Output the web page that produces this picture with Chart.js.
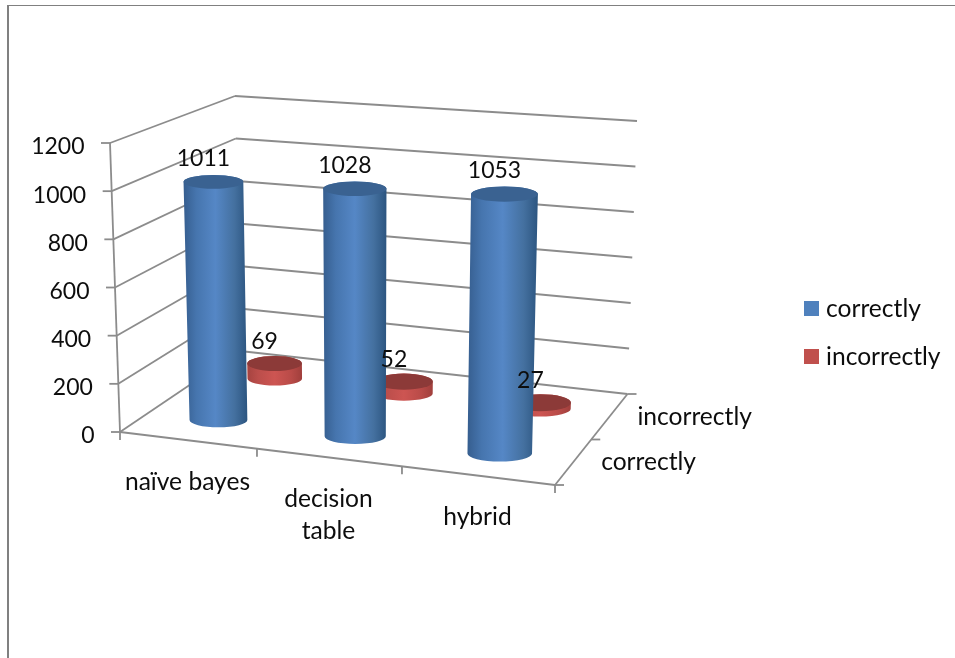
<!DOCTYPE html>
<html>
<head>
<meta charset="utf-8">
<title>correctly / incorrectly</title>
<script src="https://cdn.jsdelivr.net/npm/chart.js@4"></script>
<style>
  html, body { margin: 0; padding: 0; background: #fff; }
  #wrap { width: 955px; height: 658px; }
</style>
</head>
<body>
<div id="wrap"><canvas id="chart3d" width="955" height="658"></canvas></div>
<script>
const categories = ['naïve bayes', ['decision', 'table'], 'hybrid'];
const correctly = [1011, 1028, 1053];
const incorrectly = [69, 52, 27];
const seriesNames = ['correctly', 'incorrectly'];

// corners of the 3d box on the canvas: front/back, left/right, bottom/top
const box = {
    flb: [120, 432], frb: [555, 485], blb: [240, 351], brb: [627.5, 394],
    flt: [110, 143], frt: [563, 176], blt: [235, 96], brt: [637, 121]
};

const NUM_FONT = '23px Lato, "Open Sans", sans-serif';
const FONT = '24.6px Lato, "Open Sans", sans-serif';
const LINE = '#8c8c8c';
const TEXT = '#0d0d0d';

const shades = [
    { legend: '#4f81bd', edgeL: '#365e8f', midL: '#4675ae', lit: '#5587c6', midR: '#44709f', edgeR: '#2c5580', cap: '#3a6291' },
    { legend: '#c0504d', edgeL: '#a54340', midL: '#bb4e4b', lit: '#cd5552', midR: '#b94b48', edgeR: '#a03f3c', cap: '#8c3a38' }
];

function lerp(a, b, t) {
    return [a[0] + (b[0] - a[0]) * t, a[1] + (b[1] - a[1]) * t];
}

// the right side is nearer the viewer so the categories spread out a bit
function warp(u) {
    return u * (1 - 0.083 * (1 - u));
}

function project(u, d, v) {
    const w = warp(u);
    const bottom = lerp(lerp(box.flb, box.frb, w), lerp(box.blb, box.brb, w), d);
    const top = lerp(lerp(box.flt, box.frt, w), lerp(box.blt, box.brt, w), d);
    return lerp(bottom, top, v);
}

function line(ctx, a, b) {
    ctx.beginPath();
    ctx.moveTo(a[0], a[1]);
    ctx.lineTo(b[0], b[1]);
    ctx.stroke();
}

function drawFrame(ctx) {
    ctx.fillStyle = '#808080';
    ctx.fillRect(7, 5, 948, 1);
    ctx.fillRect(7, 5, 2, 653);
}

function drawWalls(chart) {
    const ctx = chart.ctx;
    const y = chart.scales.y;
    ctx.strokeStyle = LINE;
    ctx.lineWidth = 1.8;

    y.ticks.forEach(tick => {
        const v = (y.bottom - y.getPixelForValue(tick.value)) / y.height;
        const front = project(0, 0, v);
        const back = project(0, 1, v);
        line(ctx, [front[0] - 9, front[1]], front);
        line(ctx, front, back);
        line(ctx, back, project(1, 1, v));
    });

    // value axis, floor edges and their tick marks
    line(ctx, project(0, 0, 0), project(0, 0, 1));
    line(ctx, project(0, 0, 0), project(1, 0, 0));
    line(ctx, project(1, 0, 0), project(1, 1, 0));

    const n = categories.length;
    for (let i = 0; i <= n; i++) {
        const p = project(i / n, 0, 0);
        line(ctx, p, [p[0], p[1] + 8]);
    }
    [0, 0.5, 1].forEach(d => {
        const p = project(1, d, 0);
        line(ctx, p, [p[0] + 9, p[1]]);
    });
}

function cylinder(ctx, bar, depth, look, vScale, xScale) {
    const u = (bar.x - xScale.left) / xScale.width;
    const v = (vScale.bottom - bar.y) / vScale.height;
    const half = bar.width / xScale.width / 2;

    const b = project(u, depth, 0);
    const t = project(u, depth, v);
    b[1] += 2.5;
    t[1] += 2.5;
    const rb = (project(u + half, depth, 0)[0] - project(u - half, depth, 0)[0]) / 2;
    const rt = (project(u + half, depth, v)[0] - project(u - half, depth, v)[0]) / 2;
    const tiltB = 0.25;
    const tiltT = 0.28 - 0.06 * v;

    const grad = ctx.createLinearGradient(Math.min(t[0] - rt, b[0] - rb), 0, Math.max(t[0] + rt, b[0] + rb), 0);
    grad.addColorStop(0, look.edgeL);
    grad.addColorStop(0.2, look.midL);
    grad.addColorStop(0.5, look.lit);
    grad.addColorStop(0.8, look.midR);
    grad.addColorStop(1, look.edgeR);

    ctx.fillStyle = grad;
    ctx.beginPath();
    ctx.moveTo(t[0] - rt, t[1]);
    ctx.lineTo(b[0] - rb, b[1]);
    ctx.ellipse(b[0], b[1], rb, rb * tiltB, 0, Math.PI, 0, true);
    ctx.lineTo(t[0] + rt, t[1]);
    ctx.ellipse(t[0], t[1], rt, rt * tiltT, 0, 0, Math.PI, true);
    ctx.closePath();
    ctx.fill();

    ctx.fillStyle = look.cap;
    ctx.beginPath();
    ctx.ellipse(t[0], t[1], rt, rt * tiltT, 0, 0, Math.PI * 2);
    ctx.fill();

    return t;
}

function drawText(ctx, text, x, y, align) {
    ctx.textAlign = align;
    ctx.fillText(text, x, y);
}

const boxPlugin = {
    id: 'box3d',
    beforeDatasetsDraw(chart) {
        const ctx = chart.ctx;
        const xScale = chart.scales.x;
        const yScale = chart.scales.y;

        ctx.save();
        drawFrame(ctx);
        drawWalls(chart);

        // rear series first so the front cylinders hide it
        const tops = [];
        [1, 0].forEach(ds => {
            const depth = (ds + 0.55) / 2;
            chart.getDatasetMeta(ds).data.forEach((bar, i) => {
                const t = cylinder(ctx, bar, depth, shades[ds], yScale, xScale);
                tops.push({ ds, text: String(chart.data.datasets[ds].data[i]), t });
            });
        });

        ctx.fillStyle = TEXT;
        ctx.textBaseline = 'middle';

        ctx.font = NUM_FONT;
        tops.forEach(item => {
            drawText(ctx, item.text, item.t[0] - 10, item.t[1] - (item.ds === 0 ? 23.5 : 22), 'center');
        });

        yScale.ticks.forEach(tick => {
            const p = project(0, 0, (yScale.bottom - yScale.getPixelForValue(tick.value)) / yScale.height);
            drawText(ctx, String(tick.value), p[0] - 25.5, p[1] + 4, 'right');
        });

        ctx.font = FONT;
        chart.data.labels.forEach((label, i) => {
            const p = project((i + 0.5) / categories.length, 0, 0);
            [].concat(label).forEach((row, k) => {
                drawText(ctx, row, p[0], p[1] + 41.5 + k * 32, 'center');
            });
        });

        chart.data.datasets.forEach((ds, i) => {
            const p = project(1, (i + 0.5) / 2, 0);
            drawText(ctx, ds.label, p[0] + 28, p[1], 'left');

            // legend on the right
            const ly = 308.5 + i * 48;
            ctx.fillStyle = ds.backgroundColor;
            ctx.fillRect(804, ly - 7.5, 15, 15);
            ctx.fillStyle = TEXT;
            drawText(ctx, ds.label, 826, ly + 1, 'left');
        });
        ctx.restore();
        return false;
    }
};

new Chart(document.getElementById('chart3d'), {
    type: 'bar',
    data: {
        labels: categories,
        datasets: [
            { label: seriesNames[0], data: correctly, backgroundColor: shades[0].legend },
            { label: seriesNames[1], data: incorrectly, backgroundColor: shades[1].legend }
        ]
    },
    options: {
        responsive: false,
        animation: false,
        categoryPercentage: 0.435,
        barPercentage: 1,
        plugins: {
            legend: { display: false },
            tooltip: { enabled: false }
        },
        scales: {
            x: { display: false, stacked: true },
            y: { display: false, min: 0, max: 1200, ticks: { stepSize: 200 } }
        }
    },
    plugins: [boxPlugin]
});
</script>
</body>
</html>
